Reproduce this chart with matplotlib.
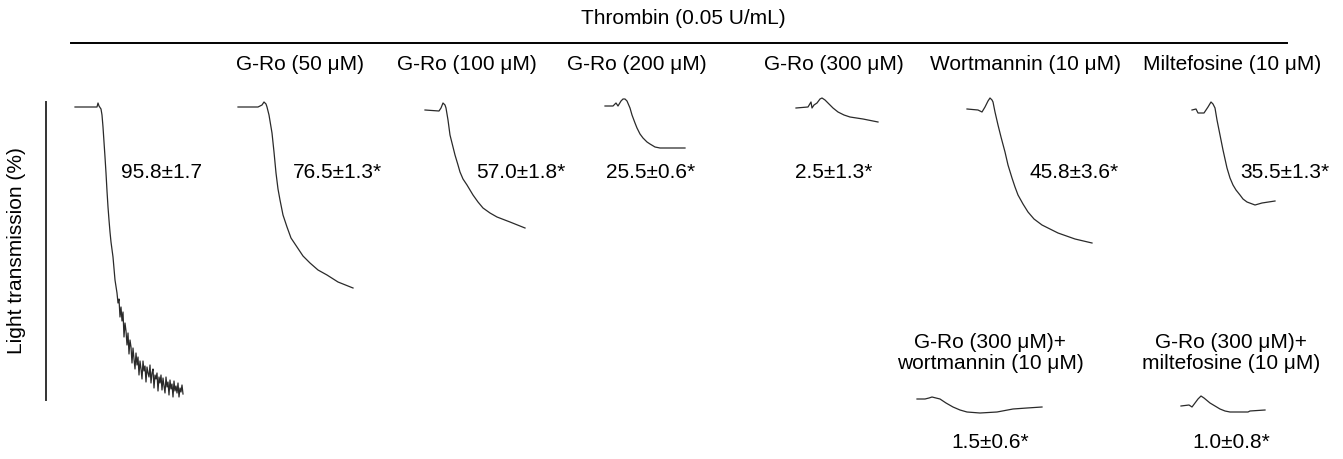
import matplotlib
matplotlib.use("Agg")
import matplotlib.pyplot as plt
import numpy as np

plt.rcParams["font.family"] = ["Liberation Sans", "DejaVu Sans"]

W, H = 1343, 459

# Trace data: time (px along the record) vs drop in signal (px).
# Control (thrombin alone)
t_ctrl = [0, 22, 23, 24, 26, 27, 28, 29, 30, 31, 32, 33, 34, 35, 36, 38, 40,
          42, 43, 44, 45, 46, 47, 48, 49, 50, 51, 52, 53, 54, 55, 56, 57, 58, 59,
          60, 61, 62, 63, 64, 65, 66, 67, 68, 69, 70, 71, 72, 73, 74, 75, 76, 77,
          78, 79, 80, 81, 82, 83, 84, 85, 86, 87, 88, 89, 90, 91, 92, 93, 94, 95,
          96, 97, 98, 99, 100, 101, 102, 103, 104, 105, 106, 107, 108]
d_ctrl = [0, 0, -4, -1, 2, 8, 20, 35, 50, 66, 84, 100, 113, 125, 135, 150, 173,
          186, 196, 192, 210, 200, 214, 205, 230, 216, 224, 238, 226, 247, 233, 240, 256, 241, 252,
          262, 246, 258, 250, 268, 254, 262, 272, 254, 264, 259, 275, 260, 266, 270, 258, 276, 266,
          262, 281, 268, 272, 266, 284, 270, 276, 268, 283, 271, 279, 286, 270, 280, 275, 288, 273,
          282, 277, 290, 274, 284, 279, 286, 276, 290, 281, 285, 278, 287]

# G-Ro 50 uM
t_50 = [0, 20, 24, 26, 28, 29, 31, 34, 36, 38, 40, 42, 45, 49, 53, 59, 65, 72, 80, 89, 100, 115]
d_50 = [0, 0, -2, -5, -3, 0, 8, 26, 45, 66, 82, 93, 108, 120, 131, 140, 149, 156, 163, 168, 175, 181]

# G-Ro 100 uM
t_100 = [0, 14, 16, 18, 20, 21, 23, 25, 28, 30, 33, 35, 38, 42, 45, 48, 53, 58, 65, 72, 85, 100]
d_100 = [0, 1, -2, -7, -5, -2, 10, 25, 37, 45, 55, 62, 69, 75, 80, 85, 92, 98, 103, 107, 112, 118]

# G-Ro 200 uM
t_200 = [0, 8, 11, 13, 16, 18, 20, 22, 25, 27, 30, 32, 35, 38, 42, 45, 50, 55, 68, 80]
d_200 = [0, 0, -3, 0, -5, -7, -7, -5, 2, 9, 17, 22, 28, 32, 36, 38, 41, 42, 42, 42]

# G-Ro 300 uM
t_300 = [0, 12, 15, 16, 18, 21, 24, 26, 29, 32, 37, 42, 48, 54, 67, 82]
d_300 = [0, -1, -6, 0, -3, -5, -9, -10, -8, -5, 0, 4, 7, 9, 11, 14]

# Wortmannin 10 uM
t_wort = [0, 11, 15, 18, 21, 23, 25, 26, 28, 31, 34, 38, 41, 45, 48, 51, 56, 61, 67, 75,
          83, 91, 108, 125]
d_wort = [0, 1, 3, -2, -8, -11, -9, -7, 3, 16, 28, 43, 56, 69, 78, 86, 95, 103, 110, 116,
          120, 124, 130, 134]

# Miltefosine 10 uM
t_milt = [0, 4, 6, 12, 16, 19, 21, 23, 25, 28, 31, 35, 38, 41, 44, 48, 51, 55, 63, 70, 83]
d_milt = [0, -1, 3, 3, -3, -8, -6, -2, 10, 25, 40, 58, 68, 75, 80, 85, 89, 92, 95, 93, 91]

# G-Ro 300 uM + wortmannin 10 uM
t_gw = [0, 8, 12, 15, 19, 23, 29, 36, 43, 50, 63, 80, 96, 110, 125]
d_gw = [0, 0, -1, -2, -1, 0, 4, 8, 11, 13, 14, 13, 10, 9, 8]

# G-Ro 300 uM + miltefosine 10 uM
t_gm = [0, 8, 11, 14, 17, 20, 23, 29, 34, 39, 44, 49, 67, 69, 84]
d_gm = [0, -1, 1, -3, -7, -10, -8, -3, 0, 3, 5, 6, 6, 5, 4]

traces = [(t_ctrl, d_ctrl), (t_50, d_50), (t_100, d_100), (t_200, d_200),
          (t_300, d_300), (t_wort, d_wort), (t_milt, d_milt), (t_gw, d_gw), (t_gm, d_gm)]

top_labels = ["G-Ro (50 μM)", "G-Ro (100 μM)", "G-Ro (200 μM)", "G-Ro (300 μM)",
              "Wortmannin (10 μM)", "Miltefosine (10 μM)"]
values = ["95.8±1.7", "76.5±1.3*", "57.0±1.8*", "25.5±0.6*", "2.5±1.3*",
          "45.8±3.6*", "35.5±1.3*"]
combo_labels = ["G-Ro (300 μM)+\nwortmannin (10 μM)", "G-Ro (300 μM)+\nmiltefosine (10 μM)"]
combo_values = ["1.5±0.6*", "1.0±0.8*"]

# layout (pixel positions on the canvas)
trace_origin = [(75, 107), (238, 107), (425, 110), (605, 106), (796, 108),
                (967, 109), (1192, 110), (917, 399), (1181, 406)]
top_x = [300, 467, 637, 834, 1025, 1232]
value_x = [162, 337, 521, 651, 834, 1074, 1285]
combo_x = [990, 1231]

fig = plt.figure(figsize=(W / 100, H / 100), dpi=100)
ax = fig.add_axes([0, 0, 1, 1])
ax.set_xlim(0, W)
ax.set_ylim(H, 0)
ax.axis("off")

for (t, d), (x0, y0) in zip(traces, trace_origin):
    ax.plot(x0 + np.array(t), y0 + np.array(d), color="#2a2a2a", lw=0.9)

fs = 15
ax.text(683, 18, "Thrombin (0.05 U/mL)", fontsize=fs, ha="center", va="center")
ax.plot([71, 1287], [43, 43], color="black", lw=1.4)
ax.plot([46, 46], [102, 400], color="#333333", lw=1.4)
ax.text(17, 251, "Light transmission (%)", fontsize=fs, rotation=90,
        ha="center", va="center")

for x, lab in zip(top_x, top_labels):
    ax.text(x, 64, lab, fontsize=fs, ha="center", va="center")
for x, v in zip(value_x, values):
    ax.text(x, 173, v, fontsize=fs, ha="center", va="center")
for x, lab, v in zip(combo_x, combo_labels, combo_values):
    ax.text(x, 353, lab, fontsize=fs, ha="center", va="center", linespacing=1.15)
    ax.text(x, 443, v, fontsize=fs, ha="center", va="center")

fig.savefig("out.png", dpi=100)
